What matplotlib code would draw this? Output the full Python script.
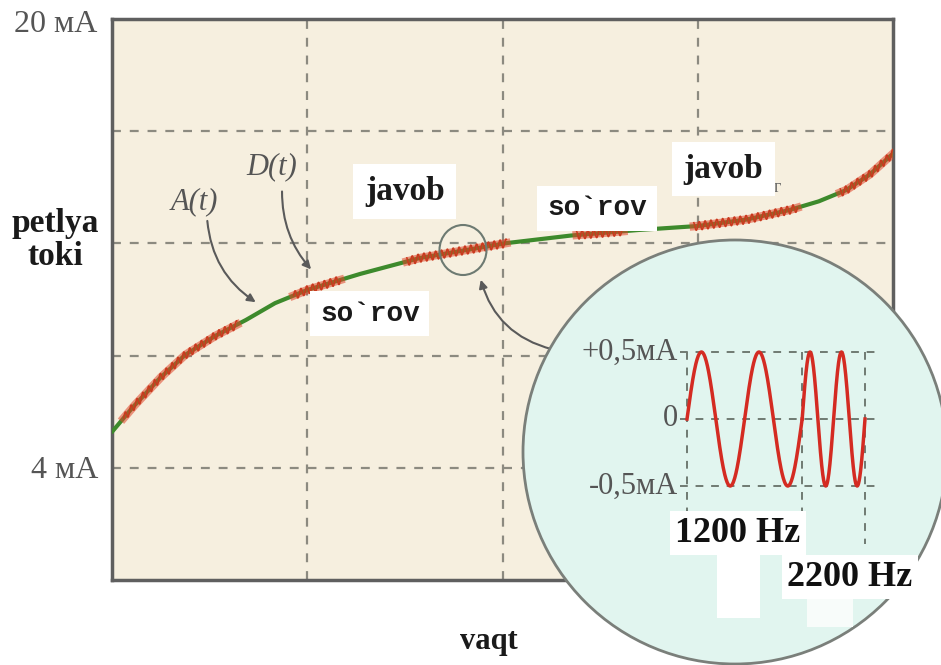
import numpy as np
import matplotlib
matplotlib.use("Agg")
import matplotlib.pyplot as plt
from matplotlib.patches import Ellipse, Rectangle

# loop current curve (time in grid units, current in mA)
t_pts = [0, 0.108, 0.246, 0.374, 0.528, 0.686, 0.835, 1.0, 1.27, 1.577, 2.02,
         2.35, 2.7, 3.0, 3.25, 3.47, 3.62, 3.76, 3.88, 4.0]
i_pts = [5.28, 6.17, 7.2, 8.02, 8.7, 9.27, 9.87, 10.34, 10.91, 11.48, 12.01,
         12.28, 12.48, 12.62, 12.85, 13.19, 13.5, 13.9, 14.45, 15.2]
# FSK bursts riding on the curve (start, end)
bursts = [(0.06, 0.64), (0.93, 1.17), (1.51, 2.02), (2.38, 2.62), (2.98, 3.51), (3.73, 4.0)]
burst_amp = 0.15
burst_period = 0.03

# inset: 2 cycles of 1200 Hz then 2 cycles of 2200 Hz, +-0.5 mA
freqs_khz = [1.2, 2.2]
cycles = [2, 2]
amp_ma = 0.5

W, H = 941, 665
def fx(x):
    return x / W
def fy(y):
    return 1 - y / H

fig = plt.figure(figsize=(9.41, 6.65), dpi=100)
fig.patch.set_facecolor("white")

ax = fig.add_axes([fx(112), fy(580), 781 / W, 561 / H])
ax.set_facecolor("#f6efdf")
ax.set_xlim(0, 4)
ax.set_ylim(0, 20)
ax.set_xticks([1, 2, 3])
ax.set_yticks([4, 8, 12, 16])
ax.tick_params(length=0, labelbottom=False, labelleft=False)
ax.grid(True, ls=(0, (4, 4)), color="#8c8a80", lw=1.6)
for s in ax.spines.values():
    s.set_color("#5f5f5f")
    s.set_linewidth(2.5)

ax.plot(t_pts, i_pts, color="#3d8a2c", lw=3, solid_capstyle="round", zorder=3)

for a, b in bursts:
    xs = np.linspace(a, b, 400)
    base = np.interp(xs, t_pts, i_pts)
    ax.plot(xs, base, color="#e0452a", lw=6, alpha=0.55, zorder=4)
    ax.plot(xs, base + burst_amp * np.sin(2 * np.pi * xs / burst_period),
            color="#c93a1e", lw=1.1, zorder=5)

serif = "Liberation Serif"
arrow_kw = dict(arrowstyle="-|>", color="#5a5a5a", lw=1.5, mutation_scale=12)

# A(t), D(t) labels with pointers
ax.text(0.42, 13.5, "A(t)", fontsize=22, style="italic", family=serif,
        color="#555555", ha="center", va="center")
ax.text(0.82, 14.75, "D(t)", fontsize=22, style="italic", family=serif,
        color="#555555", ha="center", va="center")
ax.annotate("", xy=(0.748, 9.85), xytext=(0.487, 12.9),
            arrowprops=dict(connectionstyle="arc3,rad=0.25", **arrow_kw))
ax.annotate("", xy=(1.029, 11.0), xytext=(0.871, 13.95),
            arrowprops=dict(connectionstyle="arc3,rad=0.2", **arrow_kw))
# pointer from inset to magnified spot
ax.annotate("", xy=(1.885, 10.8), xytext=(2.269, 8.2),
            arrowprops=dict(connectionstyle="arc3,rad=-0.3", **arrow_kw), zorder=6)

box = dict(boxstyle="square,pad=0.35", fc="white", ec="none")
ax.text(1.50, 13.85, "javob", fontsize=24, weight="bold", family=serif,
        color="#1a1a1a", ha="center", va="center", bbox=box, zorder=7)
ax.text(3.13, 14.65, "javob", fontsize=24, weight="bold", family=serif,
        color="#1a1a1a", ha="center", va="center", bbox=box, zorder=7)
ax.text(1.32, 9.5, "so`rov", fontsize=20, weight="bold", family="Liberation Mono",
        color="#1a1a1a", ha="center", va="center", bbox=box, zorder=7)
ax.text(2.484, 13.25, "so`rov", fontsize=20, weight="bold", family="Liberation Mono",
        color="#1a1a1a", ha="center", va="center", bbox=box, zorder=7)
ax.text(3.41, 14.0, "г", fontsize=13, family=serif, color="#666666",
        ha="center", va="center")

# outer labels
fig.text(fx(97), fy(24), "20 мА", fontsize=23, family=serif, color="#555555",
         ha="right", va="center")
fig.text(fx(98), fy(470), "4 мА", fontsize=23, family=serif, color="#555555",
         ha="right", va="center")
fig.text(fx(55), fy(240), "petlya\ntoki", fontsize=24, weight="bold", family=serif,
         color="#1a1a1a", ha="center", va="center", linespacing=1.08)
fig.text(fx(489), fy(641), "vaqt", fontsize=22, weight="bold", family=serif,
         color="#1a1a1a", ha="center", va="center")

# magnifier circles
fig.add_artist(Ellipse((fx(463), fy(250)), 47 / W, 50 / H, fc="none",
                       ec="#6d7a72", lw=1.5, zorder=1))
fig.add_artist(Ellipse((fx(735), fy(452)), 424 / W, 424 / H, fc="#e1f5ef",
                       ec="#7a7f7a", lw=2, zorder=1))
fig.add_artist(Rectangle((fx(717), fy(618)), 43 / W, 65 / H, fc="white",
                         ec="none", zorder=1.5))
fig.add_artist(Rectangle((fx(807), fy(627)), 46 / W, 40 / H, fc="#f8fcfa",
                         ec="none", zorder=1.5))

# inset sine
T1 = cycles[0] / freqs_khz[0]
T2 = cycles[1] / freqs_khz[1]
ms_per_px = (T1 + T2) / 178.0
axi = fig.add_axes([fx(680), fy(500), 200 / W, 160 / H])
axi.set_zorder(2)
axi.patch.set_alpha(0)
axi.axis("off")
axi.set_xlim(-7 * ms_per_px, 193 * ms_per_px)
axi.set_ylim(-0.5 - 14 / 134, 0.5 + 12 / 134)
gkw = dict(ls=(0, (4, 4)), color="#6f7a72", lw=1.4)
for yv in [amp_ma, 0, -amp_ma]:
    axi.plot(axi.get_xlim(), [yv, yv], **gkw)
for xv, ybot in [(0, -0.7), (T1, -0.75), (T1 + T2, -0.93)]:
    axi.plot([xv, xv], [amp_ma, ybot], clip_on=False, **gkw)
ta = np.linspace(0, T1, 300)
tb = np.linspace(T1, T1 + T2, 300)
axi.plot(ta, amp_ma * np.sin(2 * np.pi * freqs_khz[0] * ta), color="#d42b22", lw=2.5)
axi.plot(tb, amp_ma * np.sin(2 * np.pi * freqs_khz[1] * (tb - T1)), color="#d42b22", lw=2.5)

for yp, lab in [(352, "+0,5мА"), (418, "0"), (486, "-0,5мА")]:
    fig.text(fx(678), fy(yp), lab, fontsize=22, family=serif, color="#555555",
             ha="right", va="center", zorder=3)
wbox = dict(boxstyle="square,pad=0.15", fc="white", ec="none")
fig.text(fx(738), fy(533), "1200 Hz", fontsize=26, weight="bold", family=serif,
         color="#111111", ha="center", va="center", bbox=wbox, zorder=3)
fig.text(fx(850), fy(577), "2200 Hz", fontsize=26, weight="bold", family=serif,
         color="#111111", ha="center", va="center", bbox=wbox, zorder=3)

fig.savefig("out.png", dpi=100)
